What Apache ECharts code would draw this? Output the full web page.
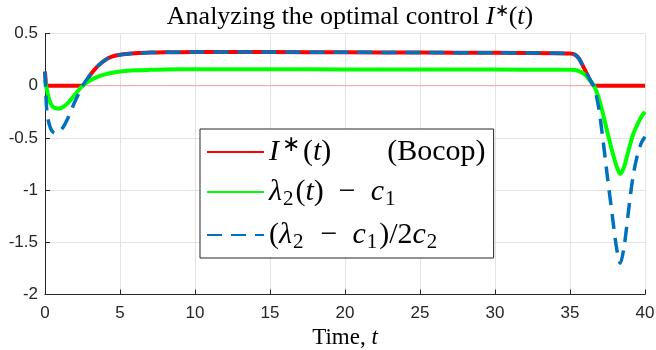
<!DOCTYPE html>
<html>
<head>
<meta charset="utf-8">
<script src="https://cdn.jsdelivr.net/npm/echarts@6/dist/echarts.min.js"></script>
<style>html,body{margin:0;padding:0;background:#fff}#c{width:656px;height:350px}</style>
</head>
<body>
<div id="c"></div>
<script>
const timePoints = [0, 0.1, 0.2, 0.35, 0.5, 0.7, 0.9, 1.2, 1.5, 1.85, 2.2, 2.5, 3, 3.5, 4, 4.5, 5, 6, 7, 8, 10, 15, 20, 25, 30, 34, 35, 35.3, 35.6, 36, 36.3, 36.6, 36.9, 37.2, 37.5, 37.8, 38.1, 38.35, 38.6, 38.9, 39.2, 39.5, 39.75, 40];
const controlI = [0.135, 0, 0, 0, 0, 0, 0, 0, 0, 0, 0, 0, 0.1, 0.185, 0.245, 0.28, 0.296, 0.31, 0.317, 0.32, 0.322, 0.322, 0.32, 0.318, 0.315, 0.312, 0.308, 0.3, 0.26, 0.15, 0.065, 0, 0, 0, 0, 0, 0, 0, 0, 0, 0, 0, 0, 0];
const lambdaMinusC1 = [0.055, -0.02, -0.09, -0.16, -0.2, -0.215, -0.22, -0.205, -0.17, -0.11, -0.05, 0, 0.05, 0.085, 0.108, 0.124, 0.135, 0.147, 0.152, 0.155, 0.157, 0.157, 0.156, 0.155, 0.154, 0.153, 0.152, 0.15, 0.14, 0.105, 0.055, 0, -0.11, -0.27, -0.45, -0.62, -0.77, -0.845, -0.78, -0.62, -0.47, -0.37, -0.3, -0.25];
const ratioSeries = [0.135, -0.2, -0.32, -0.4, -0.44, -0.455, -0.445, -0.4, -0.32, -0.2, -0.09, 0, 0.1, 0.185, 0.245, 0.28, 0.296, 0.31, 0.317, 0.32, 0.322, 0.322, 0.32, 0.318, 0.315, 0.312, 0.308, 0.3, 0.26, 0.15, 0.065, -0.01, -0.2, -0.52, -0.88, -1.22, -1.55, -1.7, -1.55, -1.2, -0.87, -0.66, -0.55, -0.49];
const zeroLine = [[0, 0], [40, 0]];
const xTicks = [0, 5, 10, 15, 20, 25, 30, 35, 40];
const yTicks = [-2, -1.5, -1, -0.5, 0, 0.5];

const serif = 'Liberation Serif';
const pair = (ys) => timePoints.map((t, i) => [t, ys[i]]);
const axisColor = '#262626';

const base = {fontFamily: serif, fontWeight: 'normal', color: '#000'};
const legendRich = {
  n: {...base, fontSize: 30, lineHeight: 36},
  i: {...base, fontSize: 30, lineHeight: 36, fontStyle: 'italic'},
  sp: {...base, fontSize: 30, lineHeight: 36, width: 56},
  sup: {...base, fontSize: 22, lineHeight: 24, verticalAlign: 'top', padding: [0, 3, 0, 3]},
  sub: {...base, fontSize: 21, lineHeight: 18, verticalAlign: 'bottom', padding: [0, 2, 0, 1]}
};
const legendLabels = {
  'I': '{i|I}{sup|∗}{n|(}{i|t}{n|)}{sp| }{n|(Bocop)}',
  'L': '{i|λ}{sub|2}{n|(}{i|t}{n|)  −  }{i|c}{sub|1}',
  'R': '{n|(}{i|λ}{sub|2}{n|  −  }{i|c}{sub|1}{n|)/2}{i|c}{sub|2}'
};

const chart = echarts.init(document.getElementById('c'));
chart.setOption({
  animation: false,
  title: {
    text: '{n|Analyzing the optimal control }{i|I}{s|∗}{n|(}{i|t}{n|)}',
    left: 345, textAlign: 'center', top: -2,
    textStyle: {
      fontWeight: 'normal',
      rich: {
        n: {...base, fontSize: 26, lineHeight: 28},
        i: {...base, fontSize: 26, fontStyle: 'italic', lineHeight: 28},
        s: {...base, fontSize: 17, verticalAlign: 'top', lineHeight: 18}
      }
    }
  },
  grid: {left: 45, right: 11, top: 33.5, bottom: 55.5, containLabel: false, outerBoundsMode: 'none'},
  xAxis: {
    type: 'value', min: 0, max: 40, interval: 5,
    name: '{n|Time, }{i|t}', nameLocation: 'middle', nameGap: 30,
    nameTextStyle: {rich: {
      n: {...base, fontSize: 23},
      i: {...base, fontSize: 23, fontStyle: 'italic'}
    }},
    axisLine: {show: true, onZero: false, lineStyle: {color: axisColor, width: 1}},
    axisTick: {show: true, inside: true, length: 5, lineStyle: {color: axisColor}},
    axisLabel: {color: axisColor, fontSize: 17, fontFamily: 'Liberation Sans', margin: 10,
      formatter: v => xTicks.includes(v) ? String(v) : ''},
    splitLine: {show: true, lineStyle: {color: '#e3e3e3', width: 1}}
  },
  yAxis: {
    type: 'value', min: -2, max: 0.5, interval: 0.5,
    axisLine: {show: true, onZero: false, lineStyle: {color: axisColor, width: 1}},
    axisTick: {show: true, inside: true, length: 5, lineStyle: {color: axisColor}},
    axisLabel: {color: axisColor, fontSize: 17, fontFamily: 'Liberation Sans', margin: 7,
      formatter: v => yTicks.some(y => Math.abs(y - v) < 1e-9) ? String(Math.round(v * 10) / 10) : ''},
    splitLine: {show: true, lineStyle: {color: '#e3e3e3', width: 1}}
  },
  legend: {
    orient: 'vertical', left: 200, top: 129,
    backgroundColor: '#fff', borderColor: axisColor, borderWidth: 1,
    padding: [5, 8, 5, 6], itemGap: 10, itemWidth: 57, itemHeight: 20,
    itemStyle: {opacity: 0},
    data: ['I', 'L', 'R'],
    formatter: name => legendLabels[name],
    textStyle: {rich: legendRich}
  },
  series: [
    {name: 'zero', type: 'line', data: zeroLine, symbol: 'none', silent: true, z: 1,
      lineStyle: {color: '#f7a0a0', width: 1}},
    {name: 'I', type: 'line', data: pair(controlI), symbol: 'none', smooth: 0.25, z: 2,
      color: '#ff0000', lineStyle: {color: '#ff0000', width: 4}},
    {name: 'L', type: 'line', data: pair(lambdaMinusC1), symbol: 'none', smooth: 0.3, z: 3,
      color: '#00ff00', lineStyle: {color: '#00ff00', width: 4}},
    {name: 'R', type: 'line', data: pair(ratioSeries), symbol: 'none', smooth: 0.3, z: 4,
      color: '#0072bd', lineStyle: {color: '#0072bd', width: 3.5, type: [15, 9]}}
  ]
});
</script>
</body>
</html>
